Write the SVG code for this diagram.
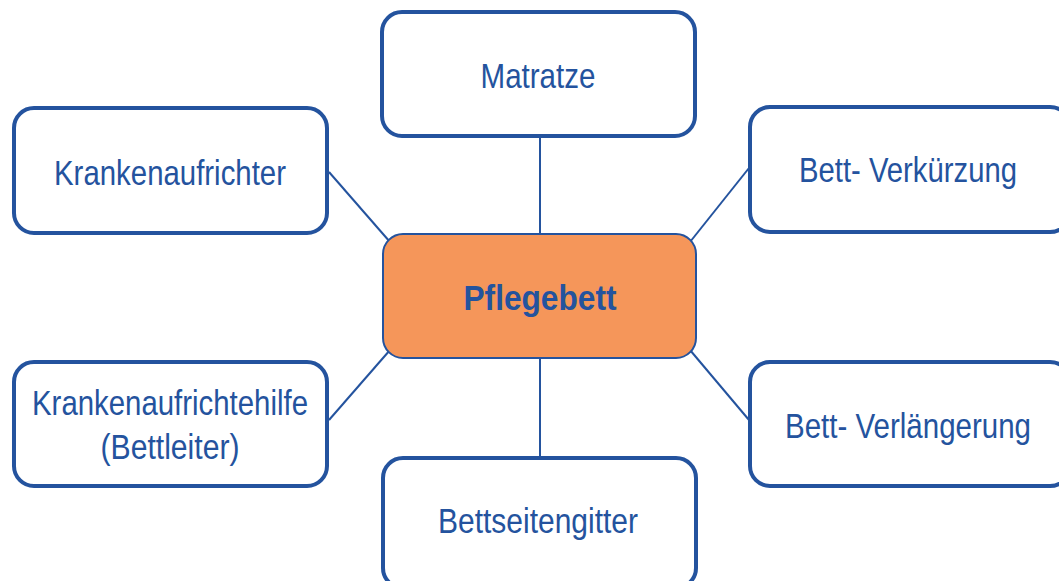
<svg xmlns="http://www.w3.org/2000/svg" width="1059" height="581" viewBox="0 0 1059 581">
<style>
.box{fill:#fff;stroke:#24539e;stroke-width:4}
.center{fill:#f5965a;stroke:#24539e;stroke-width:2}
.lbl{font-family:"Liberation Sans",Arial,sans-serif;font-size:35px;fill:#24539e;text-anchor:middle}
.bold{font-weight:bold}
.conn line{stroke:#24539e;stroke-width:2}
</style>
<rect width="1059" height="581" fill="#fff"/>
<g class="conn" id="connectors">
<line x1="540" y1="137" x2="540" y2="236"/>
<line x1="540" y1="357" x2="540" y2="458"/>
<line x1="329" y1="172" x2="390" y2="242"/>
<line x1="749" y1="168" x2="690" y2="242"/>
<line x1="329" y1="420" x2="390" y2="350"/>
<line x1="749" y1="420" x2="690" y2="350"/>
</g>
<g id="matratze">
<rect class="box" x="382" y="12" width="313" height="124" rx="20"/>
<text class="lbl" x="538" y="88" textLength="115" lengthAdjust="spacingAndGlyphs">Matratze</text>
</g>
<g id="krankenaufrichter">
<rect class="box" x="14" y="108" width="313" height="125" rx="20"/>
<text class="lbl" x="170" y="185" textLength="232" lengthAdjust="spacingAndGlyphs">Krankenaufrichter</text>
</g>
<g id="bett-verkuerzung">
<rect class="box" x="750" y="107" width="320" height="125" rx="20"/>
<text class="lbl" x="908" y="182" textLength="218" lengthAdjust="spacingAndGlyphs">Bett- Verkürzung</text>
</g>
<g id="pflegebett">
<rect class="center" x="383" y="234" width="313" height="124" rx="20"/>
<text class="lbl bold" x="540" y="310" textLength="153" lengthAdjust="spacingAndGlyphs">Pflegebett</text>
</g>
<g id="krankenaufrichtehilfe">
<rect class="box" x="14" y="362" width="313" height="124" rx="20"/>
<text class="lbl" x="170" y="415" textLength="276" lengthAdjust="spacingAndGlyphs">Krankenaufrichtehilfe</text>
<text class="lbl" x="170" y="459" textLength="139" lengthAdjust="spacingAndGlyphs">(Bettleiter)</text>
</g>
<g id="bett-verlaengerung">
<rect class="box" x="750" y="362" width="320" height="124" rx="20"/>
<text class="lbl" x="908" y="438" textLength="246" lengthAdjust="spacingAndGlyphs">Bett- Verlängerung</text>
</g>
<g id="bettseitengitter">
<rect class="box" x="383" y="458" width="313" height="130" rx="20"/>
<text class="lbl" x="538" y="533" textLength="200" lengthAdjust="spacingAndGlyphs">Bettseitengitter</text>
</g>
</svg>
